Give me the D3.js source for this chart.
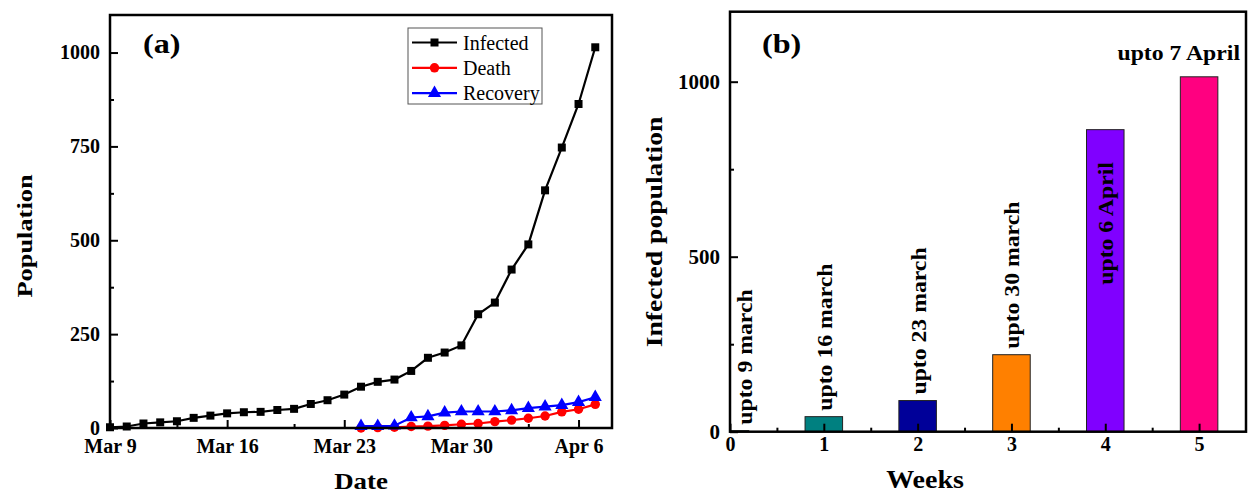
<!DOCTYPE html>
<html>
<head>
<meta charset="utf-8">
<script src="https://cdn.jsdelivr.net/npm/d3@7"></script>
<style>
  html, body { margin: 0; padding: 0; background: #fff; }
  svg { display: block; }
</style>
</head>
<body>
<div id="chart"></div>
<script>
// ---------------------------------------------------------------------------------------
// Data  /////////////////////////////////////////////////////////////////////////////////
// ---------------------------------------------------------------------------------------

const dates = [
  '2020-03-09', '2020-03-10', '2020-03-11', '2020-03-12', '2020-03-13', '2020-03-14',
  '2020-03-15', '2020-03-16', '2020-03-17', '2020-03-18', '2020-03-19', '2020-03-20',
  '2020-03-21', '2020-03-22', '2020-03-23', '2020-03-24', '2020-03-25', '2020-03-26',
  '2020-03-27', '2020-03-28', '2020-03-29', '2020-03-30', '2020-03-31', '2020-04-01',
  '2020-04-02', '2020-04-03', '2020-04-04', '2020-04-05', '2020-04-06', '2020-04-07'
];
const infected = [2, 4, 12, 15, 18, 27, 33, 39, 42, 43, 48, 51, 64, 74, 89, 110, 123, 129,
                  152, 187, 201, 220, 303, 334, 422, 489, 633, 747, 863, 1014];
const death    = [null, null, null, null, null, null, null, null, null, null, null, null, null, null, null,
                  0, 1, 2, 4, 5, 7, 10, 12, 17, 21, 26, 32, 43, 50, 63];
const recovery = [null, null, null, null, null, null, null, null, null, null, null, null, null, null, null,
                  5, 5, 6, 28, 31, 41, 44, 44, 44, 47, 53, 57, 61, 69, 82];

const seriesNames  = ['Infected', 'Death', 'Recovery'];
const seriesColors = ['#000000', '#ff0000', '#0000ff'];

const dateTicks      = ['2020-03-09', '2020-03-16', '2020-03-23', '2020-03-30', '2020-04-06'];
const dateMinorTicks = ['2020-03-13', '2020-03-20', '2020-03-27', '2020-04-03'];
const popTicks       = [0, 250, 500, 750, 1000];
const popMinorTicks  = [125, 375, 625, 875];

const weeks         = [0, 1, 2, 3, 4, 5];
const weekInfected  = [3, 43, 89, 220, 863, 1014];
const weekLabels    = ['upto 9 march', 'upto 16 march', 'upto 23 march', 'upto 30 march', 'upto 6 April', 'upto 7 April'];
const weekColors    = ['#008080', '#008080', '#000099', '#ff8000', '#8000ff', '#ff0080'];
const weekMinor     = [0.5, 1.5, 2.5, 3.5, 4.5];
const weekPopTicks  = [0, 500, 1000];
const weekPopMinor  = [250, 750];

// ---------------------------------------------------------------------------------------
// SVG setup /////////////////////////////////////////////////////////////////////////////
// ---------------------------------------------------------------------------------------

const width = 1248, height = 494;
const serif = "'Liberation Serif', 'Times New Roman', serif";
const parse = d3.utcParse('%Y-%m-%d');

const svg = d3.select('#chart').append('svg')
  .attr('xmlns', 'http://www.w3.org/2000/svg')
  .attr('viewBox', [0, 0, width, height])
  .attr('width', width)
  .attr('height', height)
  .attr('font-family', serif);

svg.append('rect').attr('width', width).attr('height', height).attr('fill', '#fff');

const panelA = svg.append('g').attr('id', 'panel-a');
const panelB = svg.append('g').attr('id', 'panel-b');

// bold text, a bit wider along its own direction like the original Origin export
function stretchedText(g, txt, x, y, size, sx, rot, anchor) {
  return g.append('text')
    .attr('transform', `translate(${x},${y}) rotate(${rot || 0}) scale(${sx},1)`)
    .attr('text-anchor', anchor || 'middle')
    .attr('font-family', serif)
    .attr('font-size', size)
    .attr('font-weight', 'bold')
    .attr('fill', '#000')
    .text(txt);
}

function styleAxis(g, size) {
  g.attr('font-family', serif);
  g.select('.domain').remove();
  g.selectAll('line').attr('stroke', '#000').attr('stroke-width', 2);
  g.selectAll('text')
    .attr('font-family', serif)
    .attr('font-size', size)
    .attr('font-weight', 'bold')
    .attr('fill', '#000');
}

// ---------------------------------------------------------------------------------------
// Panel (a): daily population  //////////////////////////////////////////////////////////
// ---------------------------------------------------------------------------------------

const pa = { left: 110, right: 612, top: 15, bottom: 428 };

const days = dates.map(parse);
const xA = d3.scaleUtc()
  .domain([days[0], d3.utcDay.offset(days[days.length - 1], 1)])
  .range([pa.left, pa.right]);
const yA = d3.scaleLinear().domain([0, 1100]).range([pa.bottom, pa.top]);

panelA.append('g')
  .attr('transform', `translate(0,${pa.bottom})`)
  .call(d3.axisBottom(xA).tickValues(dateTicks.map(parse)).tickSize(-8).tickPadding(11)
    .tickFormat(d3.utcFormat('%b %-d')))
  .call(g => styleAxis(g, 20));

panelA.append('g')
  .attr('transform', `translate(0,${pa.bottom})`)
  .call(d3.axisBottom(xA).tickValues(dateMinorTicks.map(parse)).tickSize(-4).tickFormat(''))
  .call(g => styleAxis(g, 20));

panelA.append('g')
  .attr('transform', `translate(${pa.left},0)`)
  .call(d3.axisLeft(yA).tickValues(popTicks).tickSize(-8).tickPadding(10).tickFormat(d3.format('d')))
  .call(g => styleAxis(g, 20));

panelA.append('g')
  .attr('transform', `translate(${pa.left},0)`)
  .call(d3.axisLeft(yA).tickValues(popMinorTicks).tickSize(-4).tickFormat(''))
  .call(g => styleAxis(g, 20));

// series: infected, death, recovery (recovery drawn last, on top)
const seriesValues = [infected, death, recovery];
const symbols = [d3.symbolSquare, d3.symbolCircle, d3.symbolTriangle];
const symbolSizes = [64, 70, 75];

const line = d3.line()
  .defined(d => d.v !== null)
  .x(d => xA(d.date))
  .y(d => yA(d.v));

seriesValues.forEach((vals, s) => {
  const pts = vals.map((v, i) => ({ date: days[i], v }));
  const g = panelA.append('g').attr('id', 'series-' + seriesNames[s].toLowerCase());
  g.append('path')
    .datum(pts)
    .attr('d', line)
    .attr('fill', 'none')
    .attr('stroke', seriesColors[s])
    .attr('stroke-width', 2.2);
  g.selectAll('path.marker')
    .data(pts.filter(d => d.v !== null))
    .join('path')
    .attr('class', 'marker')
    .attr('transform', d => `translate(${xA(d.date)},${yA(d.v)})`)
    .attr('d', d3.symbol(symbols[s], symbolSizes[s]))
    .attr('fill', seriesColors[s]);
});

// legend
const legend = panelA.append('g').attr('id', 'legend');
legend.append('rect')
  .attr('x', 408).attr('y', 28).attr('width', 134).attr('height', 76)
  .attr('fill', '#fff').attr('stroke', '#555').attr('stroke-width', 1);

seriesNames.forEach((name, s) => {
  const ly = 42.5 + s * 25.3;
  legend.append('line')
    .attr('x1', 412).attr('x2', 457).attr('y1', ly).attr('y2', ly)
    .attr('stroke', seriesColors[s]).attr('stroke-width', 2.2);
  legend.append('path')
    .attr('transform', `translate(434.5,${ly})`)
    .attr('d', d3.symbol(symbols[s], symbolSizes[s]))
    .attr('fill', seriesColors[s]);
  legend.append('text')
    .attr('x', 463).attr('y', ly).attr('dy', '0.35em')
    .attr('font-family', serif)
    .attr('font-size', 20)
    .attr('fill', '#000')
    .text(name);
});

// labels
stretchedText(panelA, '(a)', 143, 53, 28, 1.15, 0, 'start');
stretchedText(panelA, 'Population', 32, 236, 22, 1.2, -90);
stretchedText(panelA, 'Date', (pa.left + pa.right) / 2, 489, 24, 1.12, 0);

panelA.append('rect')
  .attr('x', pa.left).attr('y', pa.top)
  .attr('width', pa.right - pa.left).attr('height', pa.bottom - pa.top)
  .attr('fill', 'none').attr('stroke', '#000').attr('stroke-width', 2.5);

// ---------------------------------------------------------------------------------------
// Panel (b): weekly infected population  ////////////////////////////////////////////////
// ---------------------------------------------------------------------------------------

const pb = { left: 730, right: 1246, top: 11.7, bottom: 431.7 };

const xB = d3.scaleLinear().domain([0, 5.5]).range([pb.left, pb.right]);
const yB = d3.scaleLinear().domain([0, 1200]).range([pb.bottom, pb.top]);
const barW = xB(0.4) - xB(0);

panelB.append('defs').append('clipPath').attr('id', 'clip-b')
  .append('rect')
  .attr('x', pb.left).attr('y', pb.top)
  .attr('width', pb.right - pb.left).attr('height', pb.bottom - pb.top);

panelB.append('g')
  .attr('clip-path', 'url(#clip-b)')
  .selectAll('rect')
  .data(weeks)
  .join('rect')
  .attr('x', w => xB(w) - barW / 2)
  .attr('y', (w, i) => yB(weekInfected[i]))
  .attr('width', barW)
  .attr('height', (w, i) => yB(0) - yB(weekInfected[i]))
  .attr('fill', (w, i) => weekColors[i])
  .attr('stroke', '#222')
  .attr('stroke-width', 1);

panelB.append('g')
  .attr('transform', `translate(0,${pb.bottom})`)
  .call(d3.axisBottom(xB).tickValues(weeks).tickSize(-8).tickPadding(5).tickFormat(d3.format('d')))
  .call(g => styleAxis(g, 20));

panelB.append('g')
  .attr('transform', `translate(0,${pb.bottom})`)
  .call(d3.axisBottom(xB).tickValues(weekMinor).tickSize(-4).tickFormat(''))
  .call(g => styleAxis(g, 20));

panelB.append('g')
  .attr('transform', `translate(${pb.left},0)`)
  .call(d3.axisLeft(yB).tickValues(weekPopTicks).tickSize(-8).tickPadding(10).tickFormat(d3.format('d')))
  .call(g => styleAxis(g, 21));

panelB.append('g')
  .attr('transform', `translate(${pb.left},0)`)
  .call(d3.axisLeft(yB).tickValues(weekPopMinor).tickSize(-4).tickFormat(''))
  .call(g => styleAxis(g, 20));

// bar labels
weeks.forEach((w, i) => {
  const txt = weekLabels[i];
  if (i === weeks.length - 1) {
    // last week written flat above its bar
    stretchedText(panelB, txt, pb.right - 6, yB(weekInfected[i]) - 17, 21, 1.13, 0, 'end');
  } else if (i === weeks.length - 2) {
    // tall bar: label inside the bar
    stretchedText(panelB, txt, xB(w) + 8, yB(420), 21, 1.13, -90, 'start');
  } else {
    const lx = i === 0 ? xB(0.16) + 7 : xB(w) + 8;
    stretchedText(panelB, txt, lx, yB(weekInfected[i]) - 6, 21, 1.13, -90, 'start');
  }
});

stretchedText(panelB, '(b)', 762, 53, 28, 1.15, 0, 'start');
stretchedText(panelB, 'Infected population', 662, 232, 23, 1.2, -90);
stretchedText(panelB, 'Weeks', 925, 488, 25, 1.12, 0);

panelB.append('rect')
  .attr('x', pb.left).attr('y', pb.top)
  .attr('width', pb.right - pb.left).attr('height', pb.bottom - pb.top)
  .attr('fill', 'none').attr('stroke', '#000').attr('stroke-width', 2.5);
</script>
</body>
</html>
